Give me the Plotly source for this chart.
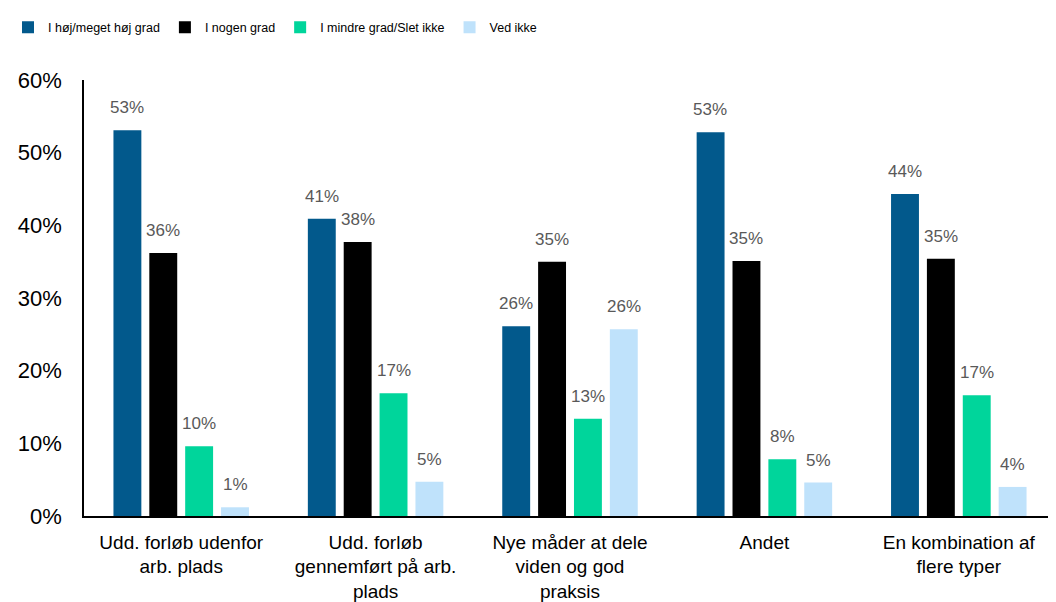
import plotly.graph_objects as go

categories = [
    "Udd. forløb udenfor<br>arb. plads",
    "Udd. forløb<br>gennemført på arb.<br>plads",
    "Nye måder at dele<br>viden og god<br>praksis",
    "Andet",
    "En kombination af<br>flere typer",
]
series_names = ["I høj/meget høj grad", "I nogen grad", "I mindre grad/Slet ikke", "Ved ikke"]
high = [53.1, 40.9, 26.1, 52.8, 44.3]
some = [36.2, 37.7, 35.0, 35.1, 35.4]
less = [9.6, 16.9, 13.4, 7.8, 16.6]
dontknow = [1.2, 4.7, 25.7, 4.6, 4.0]
yticks = [0, 10, 20, 30, 40, 50, 60]

colors = ["#02598C", "#000000", "#00D59B", "#BFE2FB"]
values = [high, some, less, dontknow]

fig = go.Figure()
for name, vals, col in zip(series_names, values, colors):
    fig.add_trace(go.Bar(x=categories, y=vals, name=name, marker_color=col,
                         marker_line_width=0))

# data labels as annotations above bars
slot_px = 36
for i, vals in enumerate(values):
    for cat, v in zip(categories, vals):
        fig.add_annotation(x=cat, y=v, text=f"{round(v):.0f}%", showarrow=False,
                           xref="x", yref="y", yanchor="bottom",
                           xshift=(i - 1.5) * slot_px, yshift=11,
                           font=dict(family="Liberation Sans, Arial", size=17, color="#595959"))

fig.update_layout(
    width=1048, height=594,
    margin=dict(l=75, r=0, t=72, b=86),
    paper_bgcolor="white", plot_bgcolor="white",
    barmode="group", bargap=0.262, bargroupgap=0.222,
    font=dict(family="Liberation Sans, Arial", color="#000000"),
    showlegend=True,
    legend=dict(orientation="h", x=-0.078, xanchor="left", y=1.12, yanchor="middle",
                font=dict(family="Liberation Sans, Arial", size=12.5, color="#000000"),
                bgcolor="rgba(0,0,0,0)", traceorder="normal"),
)
fig.update_xaxes(showline=True, linecolor="#000000", linewidth=1.5, ticks="",
                 ticklabelstandoff=8,
                 tickfont=dict(size=19, color="#000000"), showgrid=False)
fig.update_yaxes(range=[0, 60], tickvals=yticks, ticktext=[f"{t}%" for t in yticks],
                 showline=True, linecolor="#000000", linewidth=1.5, showgrid=False,
                 zeroline=False, ticks="", ticklabelstandoff=16,
                 tickfont=dict(size=22, color="#000000"))

fig.write_html("out.html")
